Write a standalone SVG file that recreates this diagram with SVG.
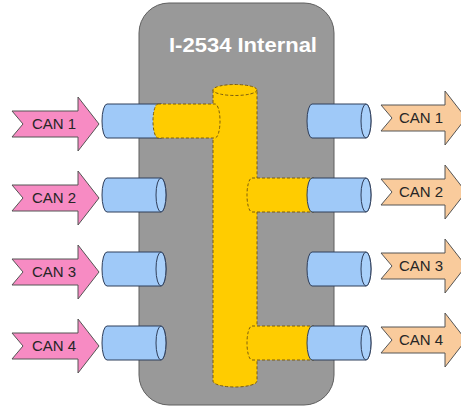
<svg xmlns="http://www.w3.org/2000/svg" xmlns:xlink="http://www.w3.org/1999/xlink" width="461" height="407" viewBox="0 0 461 407">
<style>
.box{fill:#999999;stroke:#5f5f5f;stroke-width:1}
.title{font-family:"Liberation Sans",Arial,sans-serif;font-weight:bold;font-size:20px;fill:#ffffff;text-anchor:middle}
.lab{font-family:"Liberation Sans",Arial,sans-serif;font-size:15px;fill:#262626;text-anchor:middle}
.pink{fill:#f78bc3;stroke:#555555;stroke-width:1}
.orange{fill:#f9cb9c;stroke:#555555;stroke-width:1}
.cyl{fill:#9fc9f8;stroke:#2f3e5a;stroke-width:1}
.cap{fill:#a9d0fa;stroke:#2f3e5a;stroke-width:1}
.yel{fill:#ffcc00;stroke:#7a5c10;stroke-width:1;stroke-dasharray:3 2}
</style>
<defs>
<path id="inArrow" d="M12,-13 L78,-13 L78,-27 L99,0 L78,27 L78,13 L12,13 L23,0 Z"/>
<path id="outArrow" d="M381,-13 L445,-13 L445,-27 L466,0 L445,27 L445,13 L381,13 L392,0 Z"/>
<g id="cylL">
<path class="cyl" d="M107,-17 L161,-17 A5,17 0 0 1 161,17 L107,17 A5,17 0 0 1 107,-17 Z"/>
<ellipse class="cap" cx="161" cy="0" rx="5" ry="17"/>
</g>
<g id="cylR">
<path class="cyl" d="M312,-17 L366,-17 A5,17 0 0 1 366,17 L312,17 A5,17 0 0 1 312,-17 Z"/>
<ellipse class="cap" cx="366" cy="0" rx="5" ry="17"/>
</g>
</defs>
<g id="device">
<rect class="box" x="139" y="3" width="195" height="402" rx="30" ry="30"/>
<text class="title" x="243" y="52" textLength="148" lengthAdjust="spacingAndGlyphs">I-2534 Internal</text>
</g>
<g id="in-can1"><use xlink:href="#inArrow" class="pink" transform="translate(0,124)"/><text class="lab" x="54" y="129">CAN 1</text></g>
<g id="in-can2"><use xlink:href="#inArrow" class="pink" transform="translate(0,198)"/><text class="lab" x="54" y="203">CAN 2</text></g>
<g id="in-can3"><use xlink:href="#inArrow" class="pink" transform="translate(0,272)"/><text class="lab" x="54" y="277">CAN 3</text></g>
<g id="in-can4"><use xlink:href="#inArrow" class="pink" transform="translate(0,346)"/><text class="lab" x="54" y="351">CAN 4</text></g>
<g id="out-can1"><use xlink:href="#outArrow" class="orange" transform="translate(0,118)"/><text class="lab" x="421" y="123">CAN 1</text></g>
<g id="out-can2"><use xlink:href="#outArrow" class="orange" transform="translate(0,192)"/><text class="lab" x="421" y="197">CAN 2</text></g>
<g id="out-can3"><use xlink:href="#outArrow" class="orange" transform="translate(0,266)"/><text class="lab" x="421" y="271">CAN 3</text></g>
<g id="out-can4"><use xlink:href="#outArrow" class="orange" transform="translate(0,340)"/><text class="lab" x="421" y="345">CAN 4</text></g>
<g id="port-in1"><use xlink:href="#cylL" transform="translate(0,121)"/></g>
<g id="port-in2"><use xlink:href="#cylL" transform="translate(0,195)"/></g>
<g id="port-in3"><use xlink:href="#cylL" transform="translate(0,269)"/></g>
<g id="port-in4"><use xlink:href="#cylL" transform="translate(0,343)"/></g>
<g id="bus">
<path class="yel" d="M213,90 L213,381 A22,6 0 0 0 257,381 L257,90 Z"/>
<ellipse class="yel" cx="235" cy="90" rx="22" ry="5.5"/>
<path class="yel" d="M158,104 L215,104 A5,17 0 0 1 215,138 L158,138 A5,17 0 0 1 158,104 Z"/>
<path class="yel" d="M252,178 L314,178 L314,212 L252,212 A5,17 0 0 1 252,178 Z"/>
<path class="yel" d="M252,326 L314,326 L314,360 L252,360 A5,17 0 0 1 252,326 Z"/>
</g>
<g id="port-out1"><use xlink:href="#cylR" transform="translate(0,121)"/></g>
<g id="port-out2"><use xlink:href="#cylR" transform="translate(0,195)"/></g>
<g id="port-out3"><use xlink:href="#cylR" transform="translate(0,269)"/></g>
<g id="port-out4"><use xlink:href="#cylR" transform="translate(0,343)"/></g>
<g id="connectors"/>
</svg>
